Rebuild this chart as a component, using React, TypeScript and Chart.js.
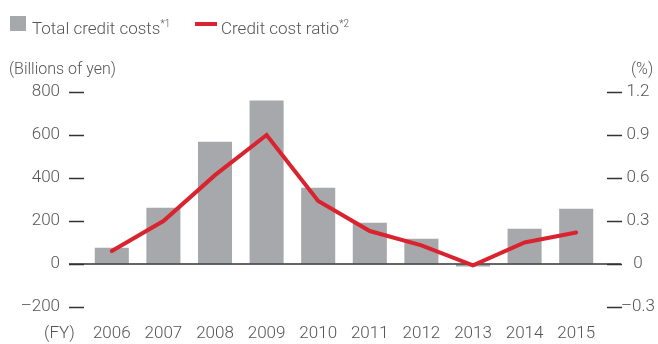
import React, { useEffect, useRef } from "react";
import { Chart, registerables } from "chart.js";

Chart.register(...registerables);

const categories = ["2006", "2007", "2008", "2009", "2010", "2011", "2012", "2013", "2014", "2015"];
const creditCosts = [76, 262, 569, 761, 355, 192, 118, -12, 164, 257];
const creditCostRatio = [0.09, 0.3, 0.62, 0.9, 0.44, 0.23, 0.13, -0.01, 0.15, 0.22];
const leftTicks = [-200, 0, 200, 400, 600, 800];
const rightTicks = [-0.3, 0, 0.3, 0.6, 0.9, 1.2];

const BAR_COLOR = "#a7a8ab";
const LINE_COLOR = "#d9232e";
const TEXT_COLOR = "#555555";
const AXIS_COLOR = "#333333";
const FONT_FAMILY = "Roboto, 'Open Sans', sans-serif";

const fmt = (v: number) => (v < 0 ? "\u2013" + String(Math.abs(v)) : String(v));

const zeroLinePlugin = {
  id: "zeroLine",
  afterDatasetDraw(chart: any, args: any) {
    if (args.index !== 0) return;
    const y = chart.scales.y.getPixelForValue(0);
    const ctx = chart.ctx;
    ctx.save();
    ctx.strokeStyle = AXIS_COLOR;
    ctx.lineWidth = 1.5;
    ctx.beginPath();
    ctx.moveTo(chart.chartArea.left - 17, y);
    ctx.lineTo(chart.chartArea.right + 19, y);
    ctx.stroke();
    ctx.restore();
  },
};

const textStyle: React.CSSProperties = {
  position: "absolute",
  fontFamily: FONT_FAMILY,
  fontWeight: 300,
  color: TEXT_COLOR,
  whiteSpace: "nowrap",
  lineHeight: "20px",
};

export default function App() {
  const canvasRef = useRef<HTMLCanvasElement | null>(null);

  useEffect(() => {
    if (!canvasRef.current) return;
    const tickFont = { family: FONT_FAMILY, size: 17, weight: 300 as any };
    const chart = new Chart(canvasRef.current, {
      data: {
        labels: categories,
        datasets: [
          {
            type: "bar",
            label: "Total credit costs",
            data: creditCosts,
            backgroundColor: BAR_COLOR,
            borderWidth: 0,
            yAxisID: "y",
            order: 1,
            barPercentage: 0.66,
            categoryPercentage: 1,
          },
          {
            type: "line",
            label: "Credit cost ratio",
            data: creditCostRatio,
            borderColor: LINE_COLOR,
            backgroundColor: LINE_COLOR,
            borderWidth: 4,
            pointRadius: 0,
            tension: 0,
            borderCapStyle: "round",
            yAxisID: "y1",
            order: 0,
          },
        ] as any,
      },
      options: {
        animation: false,
        responsive: true,
        maintainAspectRatio: false,
        layout: { padding: { top: 92, left: 0, right: 0, bottom: 0 } },
        plugins: { legend: { display: false }, tooltip: { enabled: false } },
        scales: {
          x: {
            type: "category",
            offset: true,
            grid: { display: false, drawTicks: false },
            border: { display: false },
            ticks: { font: tickFont, color: TEXT_COLOR, padding: 17, maxRotation: 0, autoSkip: false },
            afterFit: (s: any) => {
              s.height = 37;
            },
          },
          y: {
            position: "left",
            min: -200,
            max: 800,
            afterBuildTicks: (s: any) => {
              s.ticks = leftTicks.map((v) => ({ value: v }));
            },
            afterFit: (s: any) => {
              s.width = 86;
            },
            grid: {
              drawOnChartArea: false,
              drawTicks: true,
              tickLength: 17,
              tickColor: AXIS_COLOR,
              tickWidth: 1.5,
              tickBorderDash: [15, 60],
            },
            border: { display: false },
            ticks: { font: tickFont, color: TEXT_COLOR, padding: 9, callback: (v: any) => fmt(Number(v)) },
          },
          y1: {
            position: "right",
            min: -0.3,
            max: 1.2,
            afterBuildTicks: (s: any) => {
              s.ticks = rightTicks.map((v) => ({ value: v }));
            },
            afterFit: (s: any) => {
              s.width = 56;
            },
            grid: {
              drawOnChartArea: false,
              drawTicks: true,
              tickLength: 21,
              tickColor: AXIS_COLOR,
              tickWidth: 1.5,
              tickBorderDash: [0, 5, 15, 60],
            },
            border: { display: false },
            ticks: {
              font: tickFont,
              color: TEXT_COLOR,
              padding: -2,
              crossAlign: "center",
              callback: (v: any) => fmt(Number(v)),
            },
          },
        },
      } as any,
      plugins: [zeroLinePlugin],
    });
    return () => chart.destroy();
  }, []);

  return (
    <div style={{ position: "absolute", left: 0, top: 0, width: 658, height: 344, background: "#fff" }}>
      <canvas ref={canvasRef} />
      <div style={{ position: "absolute", left: 10, top: 16, width: 16, height: 15, background: BAR_COLOR }} />
      <span style={{ ...textStyle, left: 32, top: 14, fontSize: 17 }}>
        Total credit costs<sup style={{ fontSize: 10 }}>*1</sup>
      </span>
      <div style={{ position: "absolute", left: 195, top: 22, width: 22, height: 4, background: LINE_COLOR }} />
      <span style={{ ...textStyle, left: 221, top: 14, fontSize: 17 }}>
        Credit cost ratio<sup style={{ fontSize: 10 }}>*2</sup>
      </span>
      <span style={{ ...textStyle, left: 9, top: 59, fontSize: 16 }}>(Billions of yen)</span>
      <span style={{ ...textStyle, left: 631, top: 59, fontSize: 16 }}>(%)</span>
      <span style={{ ...textStyle, left: 44, top: 322, fontSize: 17 }}>(FY)</span>
    </div>
  );
}
